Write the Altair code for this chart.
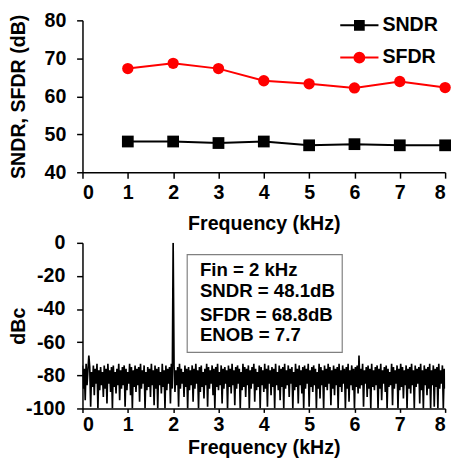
import altair as alt
import pandas as pd

FONT = "Liberation Sans"

# ---------------- top panel data ----------------
freq_khz = [1, 2, 3, 4, 5, 6, 7, 8]
sndr_db = [48.1, 48.1, 47.7, 48.1, 47.1, 47.4, 47.1, 47.1]
sfdr_db = [67.3, 68.7, 67.3, 64.1, 63.3, 62.2, 63.9, 62.3]
series_names = ["SNDR", "SFDR"]
series_colors = ["#000000", "#ff0000"]

# ---------------- bottom panel data (FFT, 0.02 kHz bins) ----------------
fft_bin_khz = 0.02
fft_dbc = [
    -74, -88, -76, -95, -73, -86, -77, -68, -75, -99, -78, -87, -74, -92, -76, -85, -73, -100, -77, -89,
    -75, -86, -78, -93, -74, -88, -76, -97, -73, -85, -77, -90, -75, -100, -74, -87, -78, -91, -76, -86,
    -73, -95, -77, -88, -75, -86, -74, -99, -76, -89, -78, -85, -73, -92, -75, -100, -77, -87, -74, -90,
    -76, -86, -75, -96, -73, -88, -77, -85, -74, -100, -78, -89, -75, -87, -76, -93, -73, -86, -77, -98,
    -74, -88, -76, -100, -75, -86, -78, -91, -73, -87, -77, -100, -74, -89, -76, -85, -75, -97, -73, -88,
    0, -74, -90, -77, -86, -75, -99, -73, -88, -76, -85, -78, -93, -74, -87, -76, -100, -75, -89, -77,
    -86, -74, -96, -76, -88, -73, -85, -77, -100, -75, -90, -74, -87, -78, -94, -76, -86, -73, -99, -75,
    -88, -77, -85, -74, -92, -76, -100, -75, -87, -73, -89, -78, -86, -74, -97, -76, -88, -75, -85, -77,
    -100, -74, -87, -76, -91, -73, -86, -77, -98, -75, -88, -74, -85, -76, -100, -78, -89, -73, -87, -75,
    -93, -76, -86, -74, -100, -77, -88, -75, -85, -73, -96, -76, -89, -78, -87, -74, -100, -75, -86, -77,
    -90, -73, -88, -76, -99, -74, -85, -77, -92, -75, -87, -76, -100, -73, -86, -78, -89, -74, -95, -76,
    -87, -75, -100, -73, -88, -77, -86, -74, -93, -76, -85, -75, -100, -78, -89, -73, -87, -76, -97, -74,
    -86, -77, -91, -75, -100, -74, -88, -76, -85, -73, -99, -77, -87, -75, -90, -74, -86, -76, -100, -78,
    -88, -73, -94, -75, -86, -77, -100, -74, -87, -76, -89, -73, -85, -75, -98, -77, -88, -74, -92, -76,
    -86, -75, -100, -73, -87, -77, -90, -74, -85, -76, -100, -75, -88, -73, -96, -77, -86, -74, -89, -76,
    -100, -75, -87, -74, -91, -68, -88, -76, -86, -73, -99, -77, -85, -75, -93, -74, -88, -76, -100, -73,
    -87, -77, -89, -75, -86, -74, -100, -76, -88, -73, -95, -77, -85, -75, -90, -74, -100, -76, -87, -78,
    -86, -73, -98, -75, -88, -77, -85, -74, -100, -76, -89, -73, -87, -75, -94, -77, -86, -74, -100, -76,
    -88, -75, -91, -73, -86, -77, -100, -74, -87, -76, -85, -75, -97, -73, -89, -77, -100, -74, -86, -76,
    -92, -75, -88, -73, -100, -77, -86, -74, -99, -76, -87, -75, -100, -73, -88, -77, -85, -74, -100, -76,
    -88,
]
box_x = [2.31]
box_x2 = [5.73]
box_y = [-7.1]
box_y2 = [-66.1]
note_lines = ["Fin = 2 kHz", "SNDR = 48.1dB", "SFDR = 68.8dB", "ENOB = 7.7"]
note_y = [-16.7, -29.2, -43.5, -56.0]
note_x = 2.59

# ---------------- tables ----------------
top_df = pd.DataFrame({
    "f": freq_khz * 2,
    "v": sndr_db + sfdr_db,
    "s": ["SNDR"] * len(freq_khz) + ["SFDR"] * len(freq_khz),
})
fft_df = pd.DataFrame({
    "f": [i * fft_bin_khz for i in range(len(fft_dbc))],
    "v": fft_dbc,
})
box_df = pd.DataFrame({"x": box_x, "x2": box_x2, "y": box_y, "y2": box_y2})
note_df = pd.DataFrame({"t": note_lines, "y": note_y, "x": [note_x] * len(note_lines)})

W = 370
NUM_LABEL = "'' + datum.value"

def x_enc(title_pad, label_pad, tick):
    return alt.X(
        "f:Q",
        scale=alt.Scale(domain=[0, 8], nice=False),
        axis=alt.Axis(values=list(range(9)), format="d", title="Frequency (kHz)", tickCount=20,
                      titlePadding=title_pad, labelPadding=label_pad, tickSize=tick),
    )

# ---------------- top panel ----------------
sq_path = "M-1,0H1M-0.23,-0.23H0.23V0.23H-0.23Z"
ci_path = "M-1,0H1M0.26,0A0.26,0.26,0,1,1,-0.26,0A0.26,0.26,0,1,1,0.26,0Z"

y_top = alt.Y("v:Q", scale=alt.Scale(domain=[40, 80], nice=False),
              axis=alt.Axis(values=[40, 50, 60, 70, 80], title="SNDR, SFDR (dB)", tickCount=20,
                            titleX=-65, titleBaseline="middle", labelPadding=11,
                            labelExpr=NUM_LABEL))

legend = alt.Legend(
    title=None, orient="none", legendX=262, legendY=-5, clipHeight=20,
    symbolSize=1521, labelFontSize=20, labelFont=FONT, labelFontWeight="bold",
    labelOffset=3, rowPadding=13, labelColor="black",
    symbolOpacity=1, symbolStrokeWidth=2,
)

xt = x_enc(11, 5, 6)
top_line_sndr = alt.Chart(top_df).transform_filter("datum.s === 'SNDR'").mark_line(
    strokeWidth=2, color="#000000").encode(x=xt, y=y_top)
top_line_sfdr = alt.Chart(top_df).transform_filter("datum.s === 'SFDR'").mark_line(
    strokeWidth=2, color="#ff0000").encode(x=xt, y=y_top)
top_sq = alt.Chart(top_df).transform_filter("datum.s === 'SNDR'").mark_point(
    shape="square", filled=True, size=144, opacity=1, color="#000000"
).encode(x=xt, y=y_top)
top_ci = alt.Chart(top_df).transform_filter("datum.s === 'SFDR'").mark_point(
    shape="circle", filled=True, size=133, opacity=1, color="#ff0000"
).encode(x=xt, y=y_top)
# invisible layer that carries the legend
top_key = alt.Chart(top_df).mark_point(opacity=0, strokeWidth=2).encode(
    x=xt, y=y_top,
    fill=alt.Fill("s:N", scale=alt.Scale(domain=series_names, range=series_colors), legend=legend),
    stroke=alt.Stroke("s:N", scale=alt.Scale(domain=series_names, range=series_colors), legend=legend),
    shape=alt.Shape("s:N", scale=alt.Scale(domain=series_names, range=[sq_path, ci_path]), legend=legend),
)

top = alt.layer(top_line_sndr, top_line_sfdr, top_sq, top_ci, top_key).properties(width=W, height=155)

# ---------------- bottom panel ----------------
y_bot = alt.Y("v:Q", scale=alt.Scale(domain=[-100, 0], nice=False),
              axis=alt.Axis(values=[-100, -80, -60, -40, -20, 0], title="dBc", tickCount=20,
                            titleX=-65, titleBaseline="middle", labelPadding=12,
                            labelOverlap=False, labelExpr=NUM_LABEL))

xb = x_enc(4, 2, 4)
fft_line = alt.Chart(fft_df).mark_line(strokeWidth=1.7, color="#000000", clip=True).encode(
    x=xb, y=y_bot
)
box = alt.Chart(box_df).mark_rect(fill="white", stroke="#808080", strokeWidth=1.2).encode(
    x="x:Q", x2="x2:Q", y="y:Q", y2="y2:Q"
)
notes = alt.Chart(note_df).mark_text(
    align="left", baseline="middle", fontSize=19, fontWeight="bold", font=FONT, color="black"
).encode(x="x:Q", y="y:Q", text="t:N")

bottom = alt.layer(fft_line, box, notes).properties(width=W, height=169)

chart = alt.vconcat(top, bottom, spacing=0).properties(
    padding={"top": -2, "left": 0, "right": 0, "bottom": 0}
).configure_view(stroke=None).configure_axis(
    grid=False, labelOverlap=False,
    labelFont=FONT, labelFontSize=20, labelFontWeight="bold", labelColor="black",
    titleFont=FONT, titleFontSize=20, titleFontWeight="bold", titleColor="black",
    domainColor="black", domainWidth=1.5, tickColor="black", tickWidth=1.5, tickSize=6,
)

chart.save("out.html", embed_options={"renderer": "svg", "actions": False})
